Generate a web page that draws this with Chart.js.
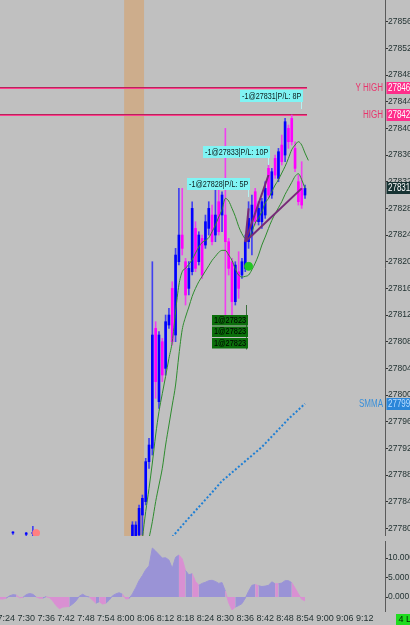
<!DOCTYPE html>
<html>
<head>
<meta charset="utf-8">
<script src="https://cdn.jsdelivr.net/npm/chart.js@4.4.1/dist/chart.umd.min.js"></script>
<style>
  html, body { margin: 0; padding: 0; background: #c0c0c0; }
  #wrap { width: 410px; height: 625px; position: relative; overflow: hidden; background: #c0c0c0; }
  canvas { display: block; position: absolute; left: 0; }
  #price { top: 0; }
  #osc { top: 536px; }
</style>
</head>
<body>
<div id="wrap">
  <canvas id="price" width="410" height="536"></canvas>
  <canvas id="osc" width="410" height="89"></canvas>
</div>
<script>
// bougies 1 minute
const candleTime = ['7:26', '7:30', '7:32',
  '8:02', '8:03', '8:04', '8:05', '8:06', '8:07', '8:08', '8:09', '8:10', '8:11',
  '8:12', '8:13', '8:14', '8:15', '8:16', '8:17', '8:18', '8:19', '8:20', '8:21',
  '8:22', '8:23', '8:24', '8:25', '8:26', '8:27', '8:28', '8:29', '8:30', '8:31',
  '8:32', '8:33', '8:34', '8:35', '8:36', '8:37', '8:38', '8:39', '8:40', '8:41',
  '8:42', '8:43', '8:44', '8:45', '8:46', '8:47', '8:48', '8:49', '8:50', '8:51',
  '8:52', '8:53', '8:54'];
const candleOpen = [27779.3, 27779.1, 27779.2,
  27777, 27778, 27779, 27782, 27784, 27790, 27792, 27810, 27799, 27808,
  27804, 27810.5, 27816, 27809, 27820, 27824, 27820, 27816, 27818.5, 27825,
  27820, 27823.5, 27822.5, 27825, 27827, 27824, 27829, 27827, 27827, 27823,
  27820, 27814, 27818.5, 27818, 27819, 27823, 27824, 27830.5, 27826, 27826,
  27827, 27834, 27830, 27835.5, 27832.5, 27837.5, 27836, 27840, 27841.5, 27837,
  27832, 27831, 27830];
const candleHigh = [27779.5, 27779.4, 27780.3,
  27781, 27781, 27783.5, 27785, 27790.5, 27793.5, 27820, 27811, 27809.5, 27808.5,
  27812, 27813, 27817, 27822, 27831, 27831, 27820.5, 27820, 27829, 27826,
  27824.5, 27824, 27827, 27829, 27828.5, 27831, 27831, 27830.5, 27840, 27823.5,
  27820.5, 27820, 27821.5, 27820.5, 27824, 27829, 27830, 27831, 27829, 27829.5,
  27832, 27834.5, 27834, 27836, 27837, 27839, 27841.5, 27840.5, 27842, 27838,
  27833, 27835, 27831.5];
const candleLow = [27779.1, 27778.9, 27778.9,
  27776, 27777, 27778, 27779, 27783.5, 27789, 27791, 27799.5, 27798, 27802,
  27803, 27810, 27807.5, 27808, 27819.5, 27821, 27813.5, 27815, 27818, 27818.5,
  27819.5, 27817.5, 27822, 27824, 27822.5, 27823, 27824, 27824.5, 27811, 27818,
  27812, 27813.5, 27814.5, 27817.5, 27818.5, 27822, 27821, 27825.5, 27825.5, 27825,
  27826.5, 27829.5, 27829.5, 27832.5, 27832, 27834.5, 27835, 27837, 27837.5, 27833.5,
  27828.5, 27828, 27829.5];
const candleClose = [27779.4, 27779.3, 27779.4,
  27780.5, 27780.5, 27783, 27784.5, 27790, 27792.5, 27809, 27802, 27809, 27803,
  27811, 27812, 27808, 27821, 27824, 27822, 27815, 27819, 27828, 27819,
  27824, 27818, 27826, 27828, 27823, 27827, 27824.5, 27830, 27823, 27819,
  27814, 27819.5, 27816, 27820, 27823, 27826.5, 27828.5, 27826, 27828, 27829,
  27831, 27830, 27833.5, 27833, 27836.5, 27835, 27841, 27838, 27838, 27834,
  27829, 27828.5, 27831];

// moyennes mobiles (une valeur par minute)
const maFastStart = '8:05';
const maFast = [27778.5, 27782.5, 27786, 27789.8, 27794, 27797.5, 27800.2, 27802.8, 27805.5, 27808,
  27812.5, 27816.5, 27818.5, 27819, 27819.6, 27820.3, 27821.3, 27822.2, 27822.9, 27823.2,
  27823.6, 27824.5, 27825.5, 27826.7, 27827.8, 27829.5, 27829.1, 27828, 27826.8, 27825.3,
  27824.2, 27823.5, 27823.5, 27824.5, 27825.8, 27826.6, 27827.5, 27828.8, 27829.5, 27830.5,
  27831.5, 27832.3, 27833.3, 27834.3, 27835.5, 27836.8, 27837.5, 27838, 27837.5, 27836.3,
  27835.2];
const maSlowStart = '8:07';
const maSlow = [27778.5, 27781, 27784, 27786.5, 27789, 27792.5, 27795.5, 27798.5, 27801.5, 27806,
  27809.8, 27811.7, 27813.2, 27814.8, 27816, 27817, 27817.8, 27818.6, 27819.4, 27820.2,
  27820.8, 27821.4, 27821.7, 27821.7, 27821, 27820.2, 27818.9, 27818, 27817.7, 27817.8,
  27818, 27818.8, 27819.8, 27821, 27822.5, 27823.7, 27825, 27826.2, 27827.2, 27828.1,
  27829, 27830.1, 27831, 27831.9, 27832.8, 27833.2, 27832.3, 27831];

// SMMA (pointillé bleu)
const smmaTime = ['8:14', '8:18', '8:22', '8:26', '8:29', '8:33', '8:37', '8:41', '8:45', '8:49', '8:54'];
const smmaValue = [27778.7, 27781, 27783.2, 27785.4, 27787.1, 27788.8, 27790.5, 27792.2, 27794.3, 27796.4, 27798.7];

// niveaux
const yHigh = 27846;
const dayHigh = 27842;
const bandStart = '8:00';
const bandEnd = '8:06';

// trades
const entryTime = '8:36';
const entryPrice = 27823;
const entryQty = [1, 1, 1];
const exitTime = ['8:37', '8:43', '8:53'];
const exitPrice = [27828, 27833, 27831];
const exitPL = [5, 10, 8];
const fillDotTime = '8:37';
const fillDotPrice = 27819.3;
const preDotTime = '7:33';
const preDotPrice = 27779.3;

// oscillateur (une valeur par minute depuis 7:22)
const oscStart = '7:22';
const oscValues = [
  -0.5, -0.5, -0.3, 0.3, 0.6, 0.5, -0.2, -0.1, 0.6, 0.9,
  0.7, 0.0, -0.3, -0.3, 0.1, -0.2, -1.0, -2.2, -3.0, -2.6,
  -2.5, -2.4, -1.8, -1.0, 0.2, 0.7, 0.2, 0.0, -0.8, -1.6,
  -1.2, -1.8, -1.6, -0.8, 0.3, 0.8, 1.1, 0.7, -0.5, -0.4,
  0.8, 2.4, 4.2, 5.5, 7.0, 8.0, 12.6, 11.8, 10.9, 10.0,
  10.1, 9.5, 7.4, 10.2, 10.8, 9.8, 6.8, 5.7, 6.0, 4.0,
  3.0, 3.5, 3.8, 4.2, 4.3, 4.0, 3.5, 3.7, 1.5, -1.5,
  -3.3, -2.6, -2.2, -1.7, -0.3, 1.5, 3.0, 3.2, 2.9, 2.7,
  2.8, 3.0, 3.9, 3.4, 3.4, 3.6, 4.2, 4.2, 3.7, 2.3,
  0.8, -0.6, -1.0];
const oscPink = [
  1, 1, 1, 0, 0, 0, 1, 1, 0, 0,
  0, 0, 1, 1, 0, 1, 1, 1, 1, 1,
  1, 1, 0, 0, 0, 0, 0, 0, 1, 1,
  0, 1, 1, 0, 0, 0, 0, 0, 1, 1,
  0, 0, 0, 0, 0, 0, 0, 0, 0, 0,
  0, 0, 0, 0, 0, 1, 1, 0, 0, 1,
  1, 0, 0, 0, 0, 0, 0, 0, 0, 1,
  1, 1, 0, 0, 0, 0, 0, 0, 1, 0,
  0, 0, 0, 0, 1, 0, 0, 0, 0, 1,
  1, 1, 1];

// graduations
const timeTicks = ['7:24', '7:30', '7:36', '7:42', '7:48', '7:54', '8:00', '8:06', '8:12', '8:18',
  '8:24', '8:30', '8:36', '8:42', '8:48', '8:54', '9:00', '9:06', '9:12'];
const priceTicks = [27780, 27784, 27788, 27792, 27796, 27800, 27804, 27808, 27812, 27816,
  27820, 27824, 27828, 27832, 27836, 27840, 27844, 27848, 27852, 27856];
const oscTicks = [0, 5, 10];

function toMin(t) {
    const p = t.split(':');
    return +p[0] * 60 + +p[1];
}
function fmtTime(v) {
    const h = Math.floor(v / 60);
    const m = Math.round(v - h * 60);
    return h + ':' + (m < 10 ? '0' : '') + m;
}

const xMin = 442.1, xMax = 558.1;
const priceMin = 27778.85, priceMax = 27859.26;
const FONT = "'Liberation Sans', Arial, sans-serif";
const BLUE = '#0000ff', MAGENTA = '#ff00ff';
const LAV = '#9a93d6', PINK = '#d990d2';

Chart.defaults.font.family = FONT;
Chart.defaults.font.size = 9;
Chart.defaults.color = '#1f2f2f';

const fixRightAxis = s => { s.width = 25; s.paddingTop = 0; s.paddingBottom = 0; };
const useTicks = list => s => { s.ticks = list.map(v => ({ value: v })); };

const bodies = candleTime.map((t, i) => ({ x: toMin(t), y: [candleOpen[i], candleClose[i]] }));
const wicks = candleTime.map((t, i) => ({ x: toMin(t), y: [candleLow[i], candleHigh[i]] }));
const upAt = i => candleClose[i] >= candleOpen[i];
const ma1 = maFast.map((v, i) => ({ x: toMin(maFastStart) + i, y: v }));
const ma2 = maSlow.map((v, i) => ({ x: toMin(maSlowStart) + i, y: v }));
const smma = smmaTime.map((t, i) => ({ x: toMin(t), y: smmaValue[i] }));
const osc = oscValues.map((v, i) => ({ x: toMin(oscStart) + i, y: v }));

// texte un peu condensé, comme la police de la plateforme
function narrowText(ctx, txt, x, y, sx) {
    ctx.save();
    ctx.translate(x, y);
    ctx.scale(sx, 1);
    ctx.fillText(txt, 0, 0);
    ctx.restore();
}

function tag(ctx, yPix, text, bg, fg, side, sideColor) {
    const py = Math.round(yPix);
    ctx.font = '10px ' + FONT;
    ctx.textBaseline = 'middle';
    ctx.textAlign = 'left';
    ctx.fillStyle = bg;
    ctx.fillRect(386.5, py - 6, 24, 12);
    ctx.fillStyle = fg;
    narrowText(ctx, text, 388, py + 0.5, 0.8);
    if (side) {
        ctx.fillStyle = sideColor;
        const w = ctx.measureText(side).width * 0.8;
        narrowText(ctx, side, 383 - w, py + 0.5, 0.8);
    }
}

// décor du graphique des prix
const decor = {
    id: 'decor',
    beforeDatasetsDraw(chart) {
        const { ctx, chartArea, scales: { x, y } } = chart;
        ctx.save();
        // bande orange de l'ouverture
        const b0 = x.getPixelForValue(toMin(bandStart) - 0.5);
        const b1 = x.getPixelForValue(toMin(bandEnd) - 0.5);
        ctx.fillStyle = '#cdad8c';
        ctx.fillRect(b0, chartArea.top, b1 - b0, chartArea.bottom - chartArea.top);
        // lignes Y HIGH / HIGH
        const xEnd = x.getPixelForValue(toMin(candleTime[candleTime.length - 1]) + 0.6);
        [yHigh, dayHigh].forEach(v => {
            const py = Math.round(y.getPixelForValue(v));
            ctx.fillStyle = '#b8245a';
            ctx.fillRect(chartArea.left, py - 1, xEnd - chartArea.left, 1);
            ctx.fillStyle = '#ff3d8e';
            ctx.fillRect(chartArea.left, py, xEnd - chartArea.left, 1);
        });
        ctx.restore();
    },
    afterDatasetsDraw(chart) {
        const { ctx, scales: { x, y } } = chart;
        ctx.save();
        const ex0 = x.getPixelForValue(toMin(entryTime));
        const ey0 = y.getPixelForValue(entryPrice);
        // lignes entrée -> sorties
        ctx.strokeStyle = '#772a78';
        ctx.lineWidth = 2;
        exitTime.forEach((t, i) => {
            ctx.beginPath();
            ctx.moveTo(ex0, ey0);
            ctx.lineTo(x.getPixelForValue(toMin(t)), y.getPixelForValue(exitPrice[i]));
            ctx.stroke();
        });
        // étiquettes de sortie
        const lift = [18, 17, 86];
        ctx.font = '9px ' + FONT;
        ctx.textBaseline = 'middle';
        ctx.textAlign = 'left';
        ctx.lineWidth = 1;
        exitTime.forEach((t, i) => {
            const ex = x.getPixelForValue(toMin(t));
            const ey = y.getPixelForValue(exitPrice[i]);
            const txt = '-1@' + exitPrice[i] + '|P/L: ' + exitPL[i] + 'P';
            const w = Math.round(ctx.measureText(txt).width * 0.8 + 4);
            const right = Math.round(ex + 1);
            const bottom = Math.round(ey - lift[i]);
            ctx.fillStyle = '#80f4f4';
            ctx.fillRect(right - w, bottom - 12, w, 12);
            ctx.fillStyle = '#0c1c1c';
            narrowText(ctx, txt, right - w + 2, bottom - 5.5, 0.8);
            ctx.strokeStyle = '#b4f2f2';
            ctx.beginPath();
            ctx.moveTo(right - 1.5, bottom);
            ctx.lineTo(right - 1.5, bottom + 7);
            ctx.stroke();
        });
        // étiquettes d'entrée
        const gRight = Math.round(ex0 + 3);
        const gTop = Math.round(ey0 + 73);
        ctx.strokeStyle = '#3d6e3d';
        ctx.beginPath();
        ctx.moveTo(gRight - 1.5, gTop - 10);
        ctx.lineTo(gRight - 1.5, gTop + entryQty.length * 11.5);
        ctx.stroke();
        entryQty.forEach((q, i) => {
            const txt = q + '@' + entryPrice;
            const w = Math.round(ctx.measureText(txt).width * 0.82 + 4);
            const top = gTop + i * 11.5;
            ctx.fillStyle = '#0b6f0b';
            ctx.fillRect(gRight - w, top, w, 10.5);
            ctx.fillStyle = '#000';
            narrowText(ctx, txt, gRight - w + 2, top + 5.5, 0.82);
        });
        ctx.restore();
    },
    afterDraw(chart) {
        const { ctx, scales: { y } } = chart;
        ctx.save();
        tag(ctx, y.getPixelForValue(yHigh), String(yHigh), '#ff2d8a', '#ffffff', 'Y HIGH', '#e8336b');
        tag(ctx, y.getPixelForValue(dayHigh), String(dayHigh), '#ff2d8a', '#ffffff', 'HIGH', '#e8336b');
        const last = candleClose[candleClose.length - 1];
        tag(ctx, y.getPixelForValue(last), String(last), '#173333', '#ffffff');
        const s = smmaValue[smmaValue.length - 1];
        tag(ctx, y.getPixelForValue(s), String(Math.round(s)), '#2b86d9', '#b9dcff', 'SMMA', '#3a8fd8');
        ctx.restore();
    }
};

new Chart(document.getElementById('price'), {
    type: 'bar',
    data: {
        datasets: [
            { type: 'scatter', data: [{ x: toMin(fillDotTime), y: fillDotPrice }], backgroundColor: '#22c822', borderColor: '#22c822', pointRadius: 4, order: 0 },
            { type: 'scatter', data: [{ x: toMin(preDotTime), y: preDotPrice }], backgroundColor: '#ff8080', borderColor: '#ff8080', pointRadius: 3.5, order: 0 },
            { type: 'line', data: ma1, borderColor: '#2e8b2e', borderWidth: 1, pointRadius: 0, cubicInterpolationMode: 'monotone', order: 1 },
            { type: 'line', data: ma2, borderColor: '#2e8b2e', borderWidth: 1, pointRadius: 0, cubicInterpolationMode: 'monotone', order: 1 },
            { type: 'line', data: smma, borderColor: '#1f7fd4', borderWidth: 2, borderDash: [2, 2], pointRadius: 0, order: 2 },
            { data: bodies, backgroundColor: c => upAt(c.dataIndex) ? BLUE : MAGENTA, barThickness: 2, minBarLength: 1, grouped: false, order: 3 },
            { data: wicks, backgroundColor: c => upAt(c.dataIndex) ? '#4040f0' : '#f040f0', barThickness: 1, grouped: false, order: 4 }
        ]
    },
    options: {
        responsive: false,
        animation: false,
        events: [],
        layout: { padding: 0, autoPadding: false },
        plugins: { legend: { display: false }, tooltip: { enabled: false } },
        scales: {
            x: { type: 'linear', display: false, min: xMin, max: xMax, bounds: 'data', offset: false },
            y: {
                position: 'right', min: priceMin, max: priceMax, bounds: 'data', beginAtZero: false,
                grid: { drawOnChartArea: false, drawTicks: true, tickLength: 3, color: '#333' },
                border: { display: true, color: '#5a5a5a' },
                ticks: { padding: 0, font: { size: 8.5 }, callback: v => String(v) },
                afterBuildTicks: useTicks(priceTicks),
                afterFit: fixRightAxis
            }
        }
    },
    plugins: [decor]
});

// case "4 L" en bas à droite
const statusBox = {
    id: 'statusBox',
    afterDraw(chart) {
        const ctx = chart.ctx;
        ctx.save();
        ctx.fillStyle = '#1fdc1f';
        ctx.fillRect(396, 78, 14, 11);
        ctx.fillStyle = '#002200';
        ctx.font = '9px ' + FONT;
        ctx.textBaseline = 'middle';
        ctx.fillText('4 L', 398.5, 84);
        ctx.restore();
    }
};

new Chart(document.getElementById('osc'), {
    type: 'line',
    data: {
        datasets: [{
            data: osc,
            fill: 'origin',
            borderWidth: 1,
            pointRadius: 0,
            tension: 0,
            backgroundColor: LAV,
            borderColor: LAV,
            segment: {
                backgroundColor: c => oscPink[c.p1DataIndex] ? PINK : LAV,
                borderColor: c => oscPink[c.p1DataIndex] ? PINK : LAV
            }
        }]
    },
    options: {
        responsive: false,
        animation: false,
        events: [],
        layout: { padding: { top: 5, left: 0, right: 0, bottom: 0 }, autoPadding: false },
        plugins: { legend: { display: false }, tooltip: { enabled: false } },
        scales: {
            x: {
                type: 'linear', min: xMin, max: xMax, bounds: 'data',
                grid: { display: false, drawTicks: false },
                border: { display: false },
                ticks: { autoSkip: false, maxRotation: 0, padding: 2, font: { size: 9 }, callback: v => fmtTime(v) },
                afterBuildTicks: useTicks(timeTicks.map(toMin)),
                afterFit: s => { s.height = 14; s.paddingLeft = 0; s.paddingRight = 0; }
            },
            y: {
                position: 'right', min: -3.6, max: 14.4, bounds: 'data',
                grid: { drawOnChartArea: false, drawTicks: true, tickLength: 3, color: '#333' },
                border: { display: true, color: '#5a5a5a' },
                ticks: { padding: 0, font: { size: 8.5 }, callback: v => v.toFixed(3) },
                afterBuildTicks: useTicks(oscTicks),
                afterFit: fixRightAxis
            }
        }
    },
    plugins: [statusBox]
});
</script>
</body>
</html>
